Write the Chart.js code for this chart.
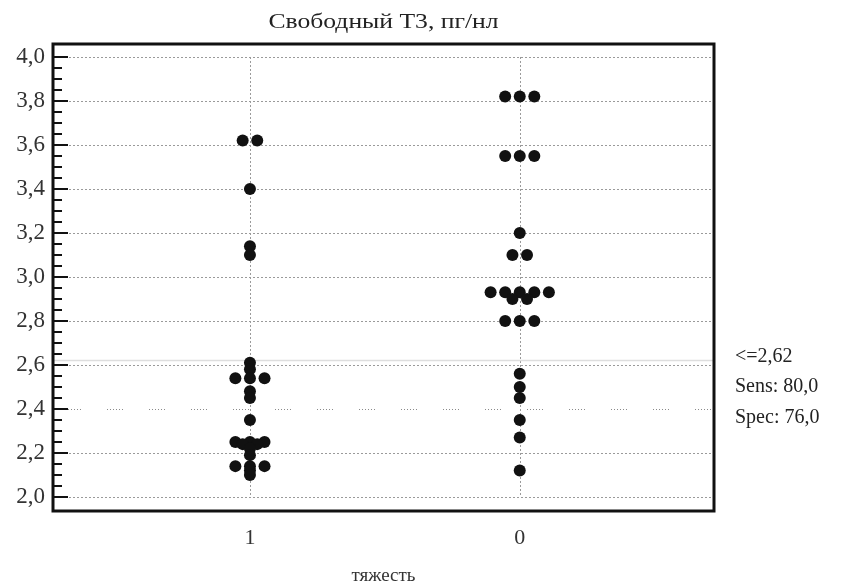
<!DOCTYPE html>
<html>
<head>
<meta charset="utf-8">
<script src="https://cdn.jsdelivr.net/npm/chart.js@4"></script>
<style>
  html, body { margin: 0; padding: 0; background: #fff; }
  #wrap { width: 850px; height: 583px; }
</style>
</head>
<body>
<div id="wrap"><canvas id="chart"></canvas></div>
<script>
const categories = ['1', '0'];
// group "1"
const severeValues = [3.62, 3.62, 3.40, 3.14, 3.10, 2.61, 2.58, 2.54, 2.54, 2.54, 2.48, 2.45, 2.35,
  2.25, 2.25, 2.25, 2.24, 2.24, 2.22, 2.19, 2.14, 2.14, 2.14, 2.12, 2.10];
// group "0"
const mildValues = [3.82, 3.82, 3.82, 3.55, 3.55, 3.55, 3.20, 3.10, 3.10, 2.93, 2.93, 2.93, 2.93, 2.93,
  2.90, 2.90, 2.80, 2.80, 2.80, 2.56, 2.50, 2.45, 2.35, 2.27, 2.12];
const yTicks = [2.0, 2.2, 2.4, 2.6, 2.8, 3.0, 3.2, 3.4, 3.6, 3.8, 4.0];
const threshold = 2.62;
const refLine = 2.4;
const titleText = 'Свободный Т3, пг/нл';
const xTitle = 'тяжесть';

const SERIF = '"Liberation Serif", "Times New Roman", serif';
const STEP = 0.054; // horizontal gap between tied dots, in x units
const comma = (v, d) => v.toFixed(d).replace('.', ',');

// equal values sit side by side around their category
const swarm = (values, cat) => {
  const counts = {};
  values.forEach(v => { counts[v] = (counts[v] || 0) + 1; });
  const seen = {};
  return values.map(v => {
    const k = seen[v] = (seen[v] || 0) + 1;
    return { x: cat + (k - 1 - (counts[v] - 1) / 2) * STEP, y: v };
  });
};

const sens = severeValues.filter(v => v <= threshold).length / severeValues.length * 100;
const spec = mildValues.filter(v => v > threshold).length / mildValues.length * 100;
const notes = ['<=' + comma(threshold, 2), 'Sens: ' + comma(sens, 1), 'Spec: ' + comma(spec, 1)];

const line = (ctx, x1, y1, x2, y2) => {
  ctx.beginPath();
  ctx.moveTo(x1, y1);
  ctx.lineTo(x2, y2);
  ctx.stroke();
};

const decor = {
  id: 'decor',
  beforeDatasetsDraw(chart) {
    const { ctx, chartArea: a, scales: { x, y } } = chart;
    ctx.save();
    ctx.lineWidth = 1;
    ctx.strokeStyle = '#9a9a9a';
    ctx.setLineDash([2, 2]);
    yTicks.forEach(v => {
      if (v === refLine) return;
      const py = Math.round(y.getPixelForValue(v)) + 0.5;
      line(ctx, a.left, py, a.right, py);
    });
    const top = y.getPixelForValue(yTicks[yTicks.length - 1]);
    const bot = y.getPixelForValue(yTicks[0]);
    categories.forEach((c, i) => {
      const px = Math.round(x.getPixelForValue(i)) + 0.5;
      line(ctx, px, top, px, bot);
    });
    // sparse dotted reference line
    ctx.strokeStyle = '#8a8a8a';
    ctx.setLineDash([1, 2, 1, 2, 1, 2, 1, 2, 1, 2, 1, 26]);
    const pr = Math.round(y.getPixelForValue(refLine)) + 0.5;
    line(ctx, a.left + 12, pr, a.right, pr);
    // cut-off line
    ctx.setLineDash([]);
    ctx.strokeStyle = '#dedede';
    ctx.lineWidth = 1.5;
    const pt = y.getPixelForValue(threshold);
    line(ctx, a.left, pt, a.right, pt);
    ctx.restore();
  },
  afterDraw(chart) {
    const { ctx, chartArea: a, scales: { y } } = chart;
    ctx.save();
    // inward tick marks on the left border
    ctx.strokeStyle = '#111';
    ctx.lineWidth = 2;
    for (let i = 0; i <= 40; i++) {
      const v = yTicks[0] + i * 0.05;
      const py = Math.round(y.getPixelForValue(v));
      line(ctx, a.left, py, a.left + (i % 4 === 0 ? 15 : 9), py);
    }
    // frame
    ctx.lineWidth = 3;
    ctx.strokeRect(a.left, a.top, a.right - a.left, a.bottom - a.top);
    // title, a bit wider than the plain face like in the source
    ctx.fillStyle = '#222';
    ctx.font = '21px ' + SERIF;
    ctx.textAlign = 'center';
    ctx.textBaseline = 'middle';
    ctx.save();
    ctx.translate((a.left + a.right) / 2, 22);
    ctx.scale(1.22, 1);
    ctx.fillText(titleText, 0, 0);
    ctx.restore();
    // cut-off notes
    ctx.font = '20px ' + SERIF;
    ctx.textAlign = 'left';
    const pt = y.getPixelForValue(threshold);
    notes.forEach((t, i) => ctx.fillText(t, a.right + 21, pt - 4 + i * 30.5));
    ctx.restore();
  }
};

const tickFont = { family: SERIF, size: 23 };

new Chart(document.getElementById('chart'), {
  type: 'scatter',
  data: {
    datasets: [
      { label: categories[0], data: swarm(severeValues, 0) },
      { label: categories[1], data: swarm(mildValues, 1) }
    ]
  },
  options: {
    responsive: true,
    maintainAspectRatio: false,
    animation: false,
    layout: { padding: { top: 44, right: 136, left: 0, bottom: 0 } },
    elements: {
      point: { radius: 6, backgroundColor: '#111', borderColor: '#111', borderWidth: 0 }
    },
    plugins: {
      legend: { display: false },
      tooltip: { enabled: false }
    },
    scales: {
      x: {
        type: 'linear',
        min: -0.73,
        max: 1.72,
        grid: { display: false, drawTicks: false },
        border: { display: false },
        afterBuildTicks: s => { s.ticks = categories.map((c, i) => ({ value: i })); },
        afterFit: s => { s.height = 72; },
        ticks: { callback: v => categories[v], font: { family: SERIF, size: 22 }, color: '#333', padding: 14 },
        title: {
          display: true, text: xTitle, color: '#333',
          font: { family: SERIF, size: 19, lineHeight: 1 },
          padding: { top: 0, bottom: -3 }
        }
      },
      y: {
        min: 1.936,
        max: 4.059,
        grid: { display: false, drawTicks: false },
        border: { display: false },
        afterBuildTicks: s => { s.ticks = yTicks.map(v => ({ value: v })); },
        afterFit: s => { s.width = 53; },
        ticks: { callback: v => comma(v, 1), font: tickFont, color: '#333', padding: 8 }
      }
    }
  },
  plugins: [decor]
});
</script>
</body>
</html>
